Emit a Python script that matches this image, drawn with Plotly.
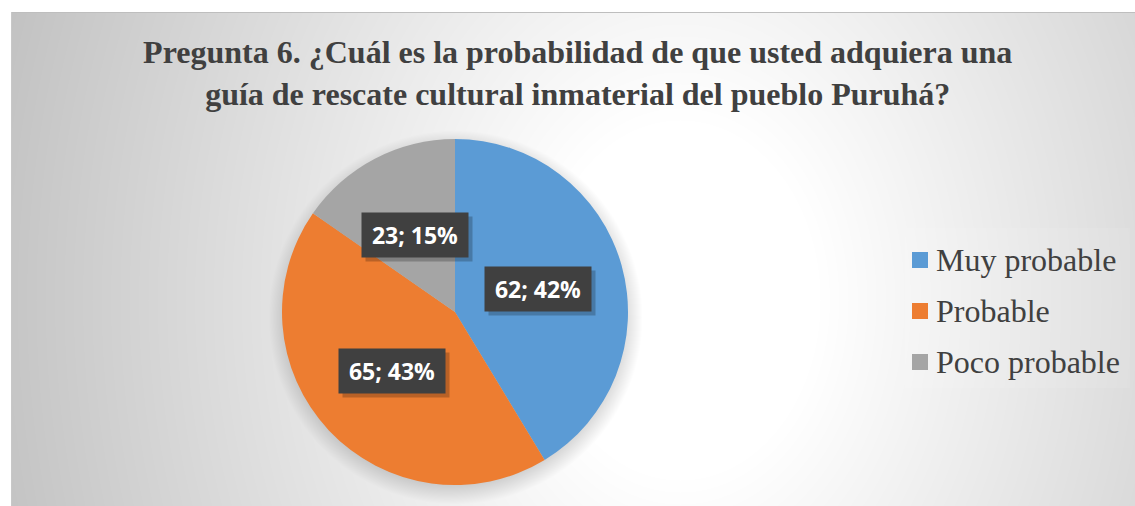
import base64
import struct
import zlib

import numpy as np
import plotly.graph_objects as go

# ---- data ----
categories = ["Muy probable", "Probable", "Poco probable"]
counts = [62, 65, 23]
percent_labels = [42, 43, 15]
colors = ["#5B9BD5", "#ED7D31", "#A5A5A5"]
title_lines = [
    "Pregunta 6. ¿Cuál es la probabilidad de que usted adquiera una",
    "guía de rescate cultural inmaterial del pueblo Puruhá?",
]

# ---- geometry (pixels) ----
W, H = 1135, 506
PIE_CX, PIE_CY, PIE_R = 455, 312, 173
FRAME = (11, 12, 1135, 506)  # chart area: x0, y0, x1, y1


def png_uri(rgb):
    """Encode an HxWx3 uint8 array as a PNG data URI."""
    h, w, _ = rgb.shape
    raw = b"".join(b"\x00" + rgb[r].tobytes() for r in range(h))

    def chunk(tag, data):
        c = struct.pack(">I", len(data)) + tag + data
        return c + struct.pack(">I", zlib.crc32(tag + data) & 0xFFFFFFFF)

    png = b"\x89PNG\r\n\x1a\n"
    png += chunk(b"IHDR", struct.pack(">IIBBBBB", w, h, 8, 2, 0, 0, 0))
    png += chunk(b"IDAT", zlib.compress(raw, 9))
    png += chunk(b"IEND", b"")
    return "data:image/png;base64," + base64.b64encode(png).decode()


# ---- chart-area background: radial grey fill with soft pie shadow ----
yy, xx = np.mgrid[0:H, 0:W].astype(float)
d = np.sqrt(((xx - 680) / 700) ** 2 + ((yy - 300) / 900) ** 2)
shade = 255 - 75 * np.clip(d - 0.2, 0, None)
ds = np.sqrt((xx - PIE_CX) ** 2 + (yy - (PIE_CY + 5)) ** 2)
shadow = 0.22 * np.clip((PIE_R + 14 - ds) / 28, 0, 1)
shade = shade * (1 - shadow)
# slightly lighter legend panel
LEG_BOX = (905, 228, 1130, 388)
in_leg = (xx >= LEG_BOX[0]) & (xx < LEG_BOX[2]) & (yy >= LEG_BOX[1]) & (yy < LEG_BOX[3])
shade = np.where(in_leg, shade + 0.07 * (255 - shade), shade)
bg = np.repeat(shade[:, :, None], 3, axis=2)
x0, y0, x1, y1 = FRAME
outside = (xx < x0) | (xx >= x1) | (yy < y0) | (yy >= y1)
bg[outside] = 255
bg[y0, x0:x1] = 190
bg[y0:y1, x0] = 200
bg = np.clip(bg, 0, 255).astype(np.uint8)

fig = go.Figure()
fig.add_trace(
    go.Pie(
        labels=categories,
        values=counts,
        sort=False,
        direction="clockwise",
        rotation=0,
        marker=dict(colors=colors, line=dict(width=0)),
        textinfo="none",
        hoverinfo="label+value+percent",
        showlegend=False,
        domain=dict(
            x=[(PIE_CX - PIE_R) / W, (PIE_CX + PIE_R) / W],
            y=[(H - PIE_CY - PIE_R) / H, (H - PIE_CY + PIE_R) / H],
        ),
    )
)

annotations = []
shapes = []

# data labels: "value; percent%" in dark boxes at half radius of each slice
total = sum(counts)
start = 0.0
for val, pct in zip(counts, percent_labels):
    mid = start + val / total * 360 / 2
    start += val / total * 360
    th = np.radians(mid)
    px = PIE_CX + 0.5 * PIE_R * np.sin(th)
    py = PIE_CY - 0.5 * PIE_R * np.cos(th)
    # soft drop shadow behind the box
    annotations.append(dict(
        x=(px + 4) / W, y=(H - py - 4) / H, xref="paper", yref="paper",
        text=" ", showarrow=False, width=104, height=42,
        bgcolor="rgba(0,0,0,0.22)", xanchor="center", yanchor="middle",
    ))
    annotations.append(dict(
        x=px / W, y=(H - py) / H, xref="paper", yref="paper",
        text=f"<b>{val}; {pct}%</b>", showarrow=False, width=104, height=42,
        bgcolor="#404040", xanchor="center", yanchor="middle",
        font=dict(family="Open Sans", size=23, color="white"),
    ))

# legend on the right
LEG_X, LEG_Y0, LEG_DY, SQ = 912, 260, 51, 16
for i, (name, col) in enumerate(zip(categories, colors)):
    cy = LEG_Y0 + i * LEG_DY
    shapes.append(dict(
        type="rect", xref="paper", yref="paper",
        x0=LEG_X / W, x1=(LEG_X + SQ) / W,
        y0=(H - cy - SQ / 2) / H, y1=(H - cy + SQ / 2) / H,
        fillcolor=col, line=dict(width=0),
    ))
    annotations.append(dict(
        x=(LEG_X + SQ + 6) / W, y=(H - cy) / H, xref="paper", yref="paper",
        text=name, showarrow=False, xanchor="left", yanchor="middle",
        font=dict(family="Liberation Serif", size=32, color="#404040"),
    ))

fig.update_layout(
    width=W,
    height=H,
    autosize=False,
    margin=dict(l=0, r=0, t=0, b=0),
    paper_bgcolor="white",
    plot_bgcolor="white",
    title=dict(
        text="<b>" + "<br>".join(title_lines) + "</b>",
        x=0.509, xanchor="center",
        y=1 - 63 / H, yanchor="middle",
        font=dict(family="Liberation Serif", size=32, color="#404040"),
    ),
    images=[dict(
        source=png_uri(bg), xref="paper", yref="paper",
        x=0, y=1, sizex=1, sizey=1, xanchor="left", yanchor="top",
        sizing="stretch", layer="below",
    )],
    annotations=annotations,
    shapes=shapes,
)

fig.write_html("out.html")
